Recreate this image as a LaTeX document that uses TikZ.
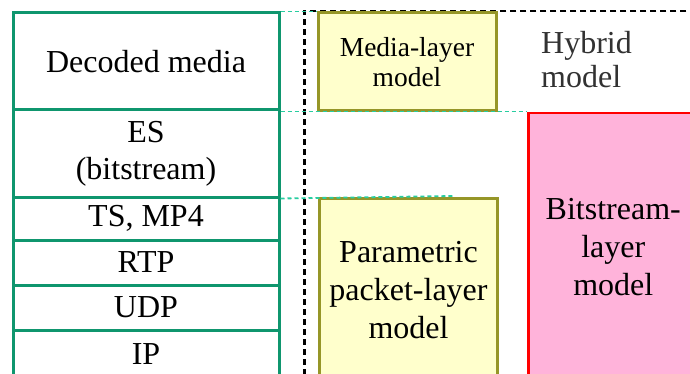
\documentclass[tikz,border=0pt]{standalone}
\usepackage{fontspec}
\setmainfont{Liberation Serif}
\definecolor{stackgreen}{RGB}{15,150,110}
\definecolor{dashteal}{RGB}{40,205,160}
\definecolor{boxyellow}{RGB}{255,255,204}
\definecolor{olive}{RGB}{150,150,40}
\definecolor{boxpink}{RGB}{255,179,218}
\definecolor{hybridgrey}{RGB}{50,50,50}
\tikzset{
  row/.style={draw=stackgreen, line width=3pt, minimum width=266pt, inner sep=0pt, align=center,
    font=\fontsize{32}{37}\selectfont},
  ybox/.style={draw=olive, fill=boxyellow, line width=3pt, inner sep=0pt, align=center,
    font=\fontsize{32}{38}\selectfont},
  pbox/.style={draw=red, fill=boxpink, line width=2.5pt, inner sep=0pt, align=center,
    font=\fontsize{32}{38}\selectfont},
  guide/.style={draw=dashteal, line width=1.8pt, dash pattern=on 4pt off 3pt},
  frame/.style={draw=black, line width=2.5pt, dash pattern=on 6pt off 4pt}
}
\begin{document}
\begin{tikzpicture}[x=1pt,y=-1pt]
\useasboundingbox (0,0) rectangle (690,374);
\clip (0,0) rectangle (690,374);
\fill[white] (0,0) rectangle (690,374);
% dashed hybrid frame
\node[frame, minimum width=400pt, minimum height=372pt, inner sep=0pt, anchor=north west] (hyb) at (303,10) {};
% protocol stack
\node[row, minimum height=97pt] (dec) at (146,61.5) {Decoded media};
\node[row, minimum height=87pt] (es) at (146,153.5) {ES\\(bitstream)};
\node[row, minimum height=43pt] (ts) at (146,218.5) {TS, MP4};
\node[row, minimum height=45pt] (rtp) at (146,262.5) {RTP};
\node[row, minimum height=45pt] (udp) at (146,307.5) {UDP};
\node[row, minimum height=48pt] (ip) at (146,354) {IP};
% model boxes
\node[ybox, minimum width=178pt, minimum height=98pt, font=\fontsize{27.5}{30}\selectfont] (media) at (407,62) {Media-layer\\model};
\node[ybox, minimum width=178pt, minimum height=184pt, anchor=north west] (param) at (318,197) {Parametric\\packet-layer\\model};
\node[pbox, minimum width=170pt, minimum height=268pt, anchor=north west] (bits) at (527,112) {Bitstream-\\layer\\model};
\node[align=left, anchor=west, inner sep=0pt, text=hybridgrey, font=\fontsize{32}{34}\selectfont] (hybl) at (541,60) {Hybrid\\model};
% guide lines
\coordinate (pend) at (453,196);
\draw[guide] (dec.north east) -- (media.north west);
\draw[guide] (dec.south east) -- (bits.north west |- dec.south east);
\draw[guide] (es.south east) -- (pend);
\end{tikzpicture}
\end{document}
